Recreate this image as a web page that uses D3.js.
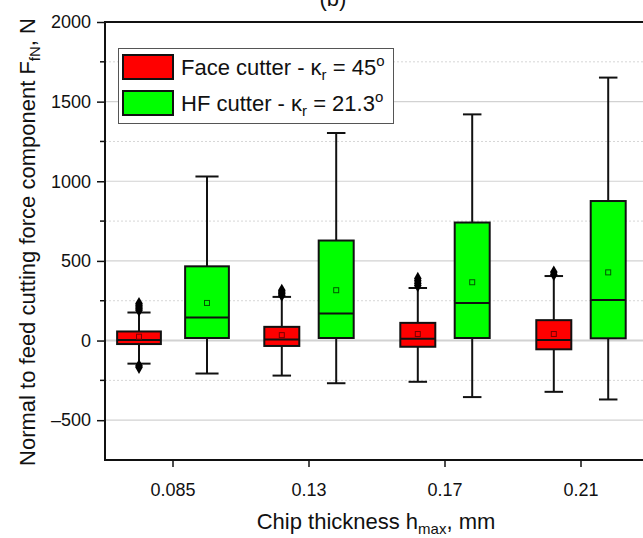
<!DOCTYPE html>
<html><head><meta charset="utf-8">
<script src="https://cdn.jsdelivr.net/npm/d3@7"></script>
<style>
html,body{margin:0;padding:0;background:#fff;}
svg{display:block;font-family:Arial,"Liberation Sans",sans-serif;}
</style></head>
<body>
<svg id="chart" width="643" height="538"></svg>
<script>
const categories = ["0.085", "0.13", "0.17", "0.21"];
const seriesNames = ["Face cutter", "HF cutter"];
// Face cutter (κr = 45°)
const faceWhiskerLow  = [-145, -220, -259, -322];
const faceQ1          = [-22, -34, -39, -55];
const faceMedian      = [3, 7, 11, 3];
const faceQ3          = [57, 86, 111, 128];
const faceWhiskerHigh = [176, 274, 330, 405];
const faceMean        = [24, 34, 41, 41];
const faceOutliers    = [[-168, -158, 190, 200, 210, 222, 232], [285, 295, 305, 315], [345, 360, 375, 390], [415, 430]];
// HF cutter (κr = 21.3°)
const hfWhiskerLow  = [-207, -268, -355, -370];
const hfQ1          = [16, 16, 16, 14];
const hfMedian      = [145, 170, 236, 255];
const hfQ3          = [466, 628, 741, 876];
const hfWhiskerHigh = [1030, 1303, 1420, 1651];
const hfMean        = [236, 316, 366, 428];
const hfOutliers    = [[], [], [], []];
const yMajorTicks = [-500, 0, 500, 1000, 1500, 2000];
const yMinorTicks = [-250, 250, 750, 1250, 1750];

(function () {
const svg = d3.select("#chart");
const pL = 105, pR = 649, pT = 22, pB = 460;
const x = d3.scaleBand().domain(categories).range([pL, pR]).padding(0);
const y = d3.scaleLinear().domain([-750, 2000]).range([pB, pT]);
const color = {"Face cutter": "#ff0000", "HF cutter": "#00ff00"};

// grid
const g = svg.append("g");
g.selectAll("line.maj").data(yMajorTicks.filter(v => v < 2000)).join("line")
  .attr("x1", pL).attr("x2", 643).attr("y1", d => y(d)).attr("y2", d => y(d))
  .attr("stroke", "#d2d2d2").attr("stroke-width", d => d === 0 ? 2 : 1.2);
g.selectAll("line.min").data(yMinorTicks).join("line")
  .attr("x1", pL).attr("x2", 643).attr("y1", d => y(d)).attr("y2", d => y(d))
  .attr("stroke", "#d6d6d6").attr("stroke-width", 1).attr("stroke-dasharray", "2,2");

// boxes
const groups = [];
categories.forEach((c, i) => {
  groups.push({cat: c, s: "Face cutter", side: -1, lo: faceWhiskerLow[i], q1: faceQ1[i], med: faceMedian[i], q3: faceQ3[i], hi: faceWhiskerHigh[i], mean: faceMean[i], out: faceOutliers[i], idx: i});
  groups.push({cat: c, s: "HF cutter", side: 1, lo: hfWhiskerLow[i], q1: hfQ1[i], med: hfMedian[i], q3: hfQ3[i], hi: hfWhiskerHigh[i], mean: hfMean[i], out: hfOutliers[i], idx: i});
});
const groupScale = i => i === 0 ? 1.25 : 1;
const bw = 35, off = 27.2, capW = 18.5;
const bg = svg.append("g");
groups.forEach(d => {
  const k = groupScale(d.idx);
  const cx = x(d.cat) + x.bandwidth() / 2 + d.side * off * k;
  const w = bw * k, cw = capW * k;
  const gg = bg.append("g");
  gg.append("line").attr("x1", cx).attr("x2", cx).attr("y1", y(d.hi)).attr("y2", y(d.q3)).attr("stroke", "#111").attr("stroke-width", 2);
  gg.append("line").attr("x1", cx).attr("x2", cx).attr("y1", y(d.q1)).attr("y2", y(d.lo)).attr("stroke", "#111").attr("stroke-width", 2);
  gg.append("line").attr("x1", cx - cw / 2).attr("x2", cx + cw / 2).attr("y1", y(d.hi)).attr("y2", y(d.hi)).attr("stroke", "#111").attr("stroke-width", 2);
  gg.append("line").attr("x1", cx - cw / 2).attr("x2", cx + cw / 2).attr("y1", y(d.lo)).attr("y2", y(d.lo)).attr("stroke", "#111").attr("stroke-width", 2);
  gg.append("rect").attr("x", cx - w / 2).attr("width", w).attr("y", y(d.q3)).attr("height", y(d.q1) - y(d.q3))
    .attr("fill", color[d.s]).attr("stroke", "#111").attr("stroke-width", 2);
  gg.append("line").attr("x1", cx - w / 2).attr("x2", cx + w / 2).attr("y1", y(d.med)).attr("y2", y(d.med)).attr("stroke", "#111").attr("stroke-width", 2);
  gg.append("rect").attr("x", cx - 2.5).attr("y", y(d.mean) - 2.5).attr("width", 5).attr("height", 5)
    .attr("fill", "none").attr("stroke", d.s === "Face cutter" ? "#7a0000" : "#005500").attr("stroke-width", 1);
  gg.selectAll("path.o").data(d.out).join("path")
    .attr("d", d3.symbol(d3.symbolDiamond, 50))
    .attr("transform", v => `translate(${cx},${y(v)})`)
    .attr("fill", "#000");
});

// axes
const yAxis = d3.axisLeft(y).tickValues(yMajorTicks).tickSize(8).tickPadding(6).tickFormat(d => d < 0 ? "\u2013" + Math.abs(d) : d);
const ya = svg.append("g").attr("transform", `translate(${pL},0)`).call(yAxis);
ya.select(".domain").attr("stroke", "#111").attr("stroke-width", 2).attr("d", `M0,${pT}V${pB}`);
ya.selectAll(".tick line").attr("stroke", "#111").attr("stroke-width", 1.5);
ya.selectAll(".tick text").attr("font-size", 18).attr("fill", "#111").attr("font-family", "Arial,'Liberation Sans',sans-serif");
svg.append("g").selectAll("line").data(yMinorTicks).join("line")
  .attr("x1", pL - 5).attr("x2", pL).attr("y1", d => y(d)).attr("y2", d => y(d))
  .attr("stroke", "#111").attr("stroke-width", 1.5);

const xAxis = d3.axisBottom(x).tickSize(7).tickPadding(16);
const xa = svg.append("g").attr("transform", `translate(0,${pB})`).call(xAxis);
xa.select(".domain").remove();
xa.selectAll(".tick line").attr("stroke", "#111").attr("stroke-width", 1.5);
xa.selectAll(".tick text").attr("font-size", 18).attr("fill", "#111").attr("font-family", "Arial,'Liberation Sans',sans-serif");
svg.append("line").attr("x1", pL - 1).attr("x2", 643).attr("y1", pB).attr("y2", pB).attr("stroke", "#111").attr("stroke-width", 2);
svg.append("line").attr("x1", pL - 1).attr("x2", 643).attr("y1", pT).attr("y2", pT).attr("stroke", "#111").attr("stroke-width", 2);

// titles
svg.append("text").attr("x", 333).attr("y", 6).attr("text-anchor", "middle").attr("font-size", 22).attr("fill", "#111").text("(b)");
const xt = svg.append("text").attr("x", 376).attr("y", 529).attr("text-anchor", "middle").attr("font-size", 22).attr("fill", "#111");
xt.append("tspan").text("Chip thickness h");
xt.append("tspan").attr("font-size", 15).attr("dy", 5).text("max");
xt.append("tspan").attr("dy", -5).text(", mm");
const yt = svg.append("text").attr("transform", "translate(35,242) rotate(-90)").attr("text-anchor", "middle").attr("font-size", 22).attr("fill", "#111");
yt.append("tspan").text("Normal to feed cutting force component F");
yt.append("tspan").attr("font-size", 15).attr("dy", 5).text("fN");
yt.append("tspan").attr("dy", -5).text(", N");

// legend
const lg = svg.append("g");
lg.append("rect").attr("x", 118.5).attr("y", 48.5).attr("width", 275).attr("height", 75).attr("fill", "#fff").attr("stroke", "#555").attr("stroke-width", 1);
const legendItems = [
  {s: "Face cutter", label: "Face cutter - \u03ba", val: " = 45"},
  {s: "HF cutter", label: "HF cutter - \u03ba", val: " = 21.3"}
];
legendItems.forEach((it, i) => {
  const yy = 55 + i * 36;
  lg.append("rect").attr("x", 123).attr("y", yy).attr("width", 50).attr("height", 24).attr("fill", color[it.s]).attr("stroke", "#111").attr("stroke-width", 2);
  const t = lg.append("text").attr("x", 181).attr("y", yy + 20).attr("font-size", 22).attr("fill", "#111");
  t.append("tspan").text(it.label);
  t.append("tspan").attr("font-size", 15).attr("dy", 5).text("r");
  t.append("tspan").attr("dy", -5).text(it.val);
  t.append("tspan").attr("font-size", 15).attr("dy", -9).text("o");
});
})();
</script>
</body></html>
